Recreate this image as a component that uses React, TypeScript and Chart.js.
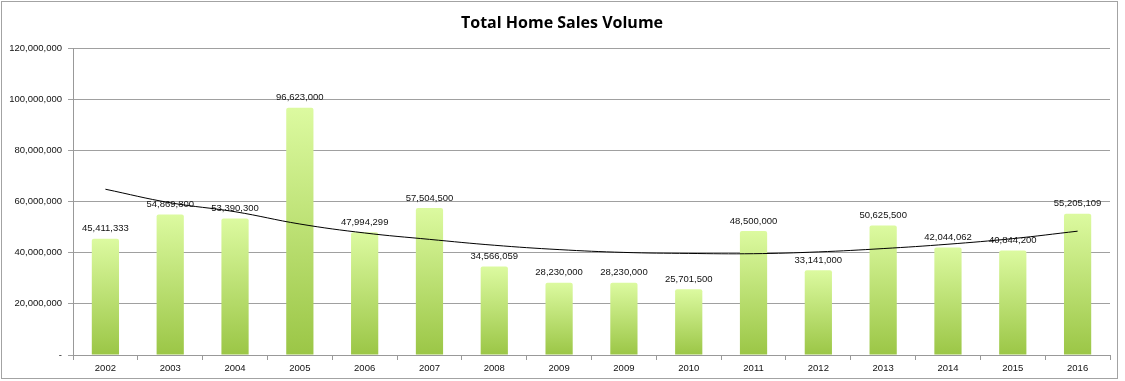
import React, { useEffect, useRef } from "react";
import { Chart, registerables } from "chart.js";

Chart.register(...registerables);

const categories = ["2002", "2003", "2004", "2005", "2006", "2007", "2008", "2009", "2009", "2010", "2011", "2012", "2013", "2014", "2015", "2016"];
const salesVolume = [45411333, 54869800, 53390300, 96623000, 47994299, 57504500, 34566059, 28230000, 28230000, 25701500, 48500000, 33141000, 50625500, 42044062, 40844200, 55205109];
const trendValues = [64800000, 59500000, 56000000, 51200000, 47700000, 45200000, 42900000, 41200000, 40100000, 39700000, 39600000, 40300000, 41600000, 43300000, 45500000, 48400000];
const chartTitle = "Total Home Sales Volume";
const yMax = 120000000;
const yStep = 20000000;

const fmt = (v: number) => String(Math.round(v)).replace(/\B(?=(\d{3})+(?!\d))/g, ",");

const FONT = "'Liberation Sans', Arial, sans-serif";

export default function App() {
  const ref = useRef<HTMLCanvasElement>(null);
  useEffect(() => {
    const canvas = ref.current;
    if (!canvas) return;

    const framePlugin = {
      id: "frame",
      beforeDraw(chart: any) {
        const c = chart.ctx;
        c.save();
        c.fillStyle = "#ffffff";
        c.fillRect(0, 0, chart.width, chart.height);
        c.strokeStyle = "#a3a3a3";
        c.lineWidth = 1;
        c.strokeRect(1.5, 1.5, 1116, 377);
        c.fillStyle = "#000";
        c.font = `bold 16px 'Open Sans', sans-serif`;
        c.textAlign = "center";
        c.textBaseline = "middle";
        c.fillText(chartTitle, 562, 23);
        c.restore();
      },
    };

    const labelPlugin = {
      id: "barLabels",
      afterDatasetDraw(chart: any, args: any) {
        if (args.meta.type !== "bar") return;
        const c = chart.ctx;
        c.save();
        c.fillStyle = "#111";
        c.font = `9.5px ${FONT}`;
        c.textAlign = "center";
        c.textBaseline = "middle";
        args.meta.data.forEach((el: any, i: number) => {
          c.fillText(fmt(salesVolume[i]), el.x, el.y - 10);
        });
        c.restore();
      },
    };

    const chart = new Chart(canvas, {
      type: "bar",
      data: {
        labels: categories,
        datasets: [
          {
            type: "line",
            label: "Trend",
            data: trendValues,
            borderColor: "#000",
            borderWidth: 1,
            pointRadius: 0,
            tension: 0.4,
            fill: false,
            order: 0,
          } as any,
          {
            type: "bar",
            label: "Total Home Sales Volume",
            data: salesVolume,
            order: 1,
            barPercentage: 0.42,
            categoryPercentage: 1,
            borderRadius: 2,
            backgroundColor: (ctx: any) => {
              const ch = ctx.chart;
              const { chartArea, scales } = ch;
              if (!chartArea || ctx.type !== "data" || !scales.y) return "#bfe07a";
              const yTop = scales.y.getPixelForValue(ctx.raw);
              const yBase = scales.y.getPixelForValue(0);
              if (!isFinite(yTop) || !isFinite(yBase) || yTop === yBase) return "#bfe07a";
              const g = ch.ctx.createLinearGradient(0, yTop, 0, yBase);
              g.addColorStop(0, "#dcfaa0");
              g.addColorStop(1, "#9bc646");
              return g;
            },
          },
        ],
      },
      options: {
        responsive: false,
        animation: false,
        devicePixelRatio: 1,
        layout: { padding: { top: 48, right: 15, left: 0, bottom: 0 } },
        plugins: {
          legend: { display: false },
          tooltip: { enabled: false },
          title: { display: false },
        },
        scales: {
          x: {
            offset: true,
            grid: { offset: true, drawOnChartArea: false, drawTicks: true, tickLength: 5, color: "#999" },
            border: { display: true, color: "#999" },
            ticks: { color: "#111", font: { family: FONT, size: 9.5 }, padding: 3, maxRotation: 0, autoSkip: false },
            afterFit: (s: any) => { s.height = 26; },
          },
          y: {
            min: 0,
            max: yMax,
            ticks: {
              stepSize: yStep,
              color: "#111",
              font: { family: FONT, size: 9.5 },
              padding: 6,
              callback: (v: any) => (Number(v) === 0 ? "-" : fmt(Number(v))),
            },
            grid: { color: "#a0a0a0", tickLength: 5, drawTicks: true },
            border: { display: true, color: "#999" },
            afterFit: (s: any) => { s.width = 73; },
          },
        },
      },
      plugins: [framePlugin, labelPlugin],
    });
    return () => chart.destroy();
  }, []);

  return (
    <div style={{ position: "fixed", left: 0, top: 0, width: 1125, height: 381, background: "#fff" }}>
      <canvas ref={ref} width={1125} height={381} style={{ width: 1125, height: 381, display: "block" }} />
    </div>
  );
}
